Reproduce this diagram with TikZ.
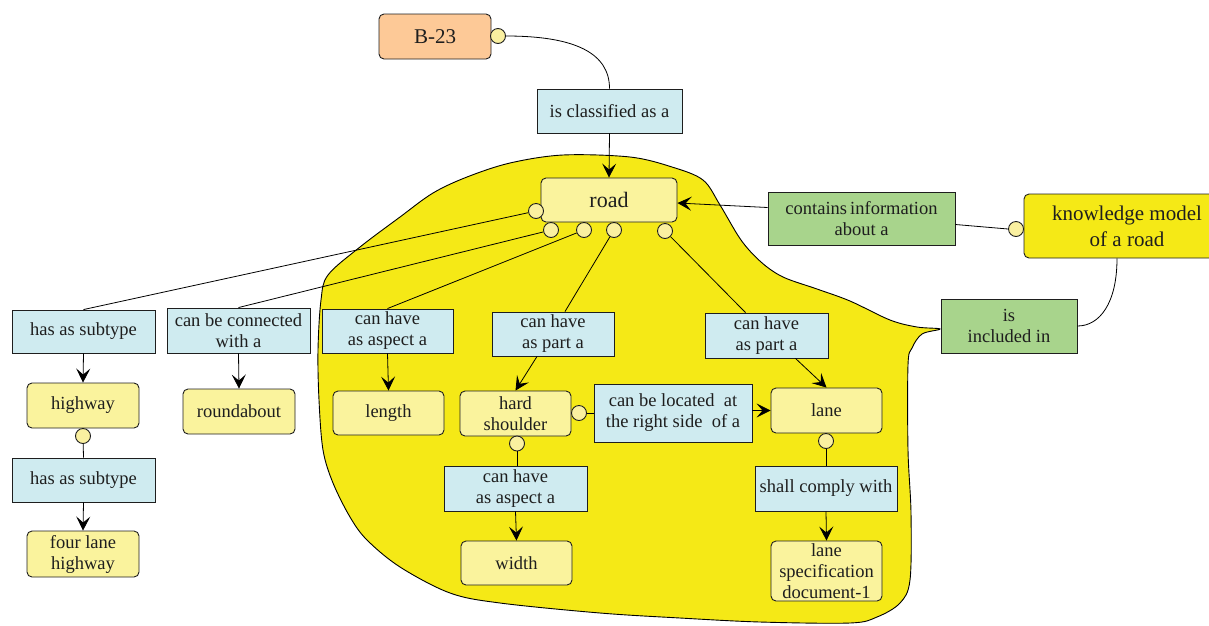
\documentclass[tikz,border=0pt]{standalone}
\usepackage{fontspec}
\setmainfont{Liberation Serif}
\usetikzlibrary{arrows.meta}
\definecolor{lblue}{RGB}{207,235,240}
\definecolor{cyellow}{RGB}{250,243,157}
\definecolor{pyellow}{RGB}{250,240,160}
\definecolor{lgreen}{RGB}{168,212,140}
\definecolor{corange}{RGB}{253,201,151}
\definecolor{blobyellow}{RGB}{245,233,22}
\definecolor{ink}{RGB}{30,30,30}
\begin{document}
\begin{tikzpicture}[x=1pt,y=-1pt,
  base/.style={draw=ink, line width=0.9pt, align=center, inner sep=2pt,
    font=\fontsize{18.5}{21}\selectfont, text=ink},
  concept/.style={base, rounded corners=5pt, fill=cyellow},
  rel/.style={base, fill=lblue},
  grel/.style={base, fill=lgreen},
  port/.style={circle, draw=ink, line width=0.9pt, fill=pyellow, minimum size=15pt, inner sep=0pt},
  link/.style={line width=0.8pt, draw=black},
  arr/.style={link, -{Stealth[length=14pt,width=14pt,inset=6pt]}}
]
\useasboundingbox (0,0) rectangle (1209,625);
% blob
\draw[line width=0.9pt, draw=black, fill=blobyellow] plot[smooth cycle, tension=0.55] coordinates {
(563,155) (630,157) (672,167) (703,180) (720,205) (741,240) (761,262) (783,277)
(817,289) (850,301) (890,320) (917,327) (940,329) (922,334) (912,348) (908,365)
(908,450) (911,513) (910,580) (900,603) (877,617) (850,623) (760,622) (680,618)
(600,613) (500,603) (450,593) (400,567) (367,540) (350,517) (333,483) (323,450)
(319,400) (318,350) (321,300) (328,275) (360,247) (400,217) (433,193) (467,177)
(510,163)};

% nodes
\node[concept, fill=corange, minimum width=112pt, minimum height=45pt, font=\fontsize{21}{24}\selectfont] (b23) at (435,36.5) {B-23};
\node[rel, minimum width=145pt, minimum height=44pt] (cls) at (609.5,111) {is classified as a};
\node[concept, minimum width=136pt, minimum height=44pt, font=\fontsize{22}{25}\selectfont] (road) at (609,200) {road};
\node[grel, minimum width=187pt, minimum height=53pt] (contains) at (861.5,218.5) {contains\,information\\about a};
\node[concept, fill=blobyellow, minimum width=206pt, minimum height=64pt, font=\fontsize{21}{26}\selectfont] (km) at (1127,226) {knowledge model\\of a road};
\node[grel, minimum width=136pt, minimum height=54pt] (incl) at (1009,326) {is\\included in};

\node[rel, minimum width=143pt, minimum height=43pt] (sub1) at (83.5,331.5) {has as subtype};
\node[rel, minimum width=143pt, minimum height=45pt] (conn) at (238.5,330.5) {can be connected\\with a};
\node[rel, minimum width=131pt, minimum height=44pt] (asp1) at (387.5,331) {can have\\as aspect a};
\node[rel, minimum width=122pt, minimum height=44pt] (part1) at (553,334) {can have\\as part a};
\node[rel, minimum width=123pt, minimum height=45pt] (part2) at (766.5,335.5) {can have\\as part a};

\node[concept, minimum width=112pt, minimum height=45pt] (highway) at (83,405.5) {highway};
\node[rel, minimum width=143pt, minimum height=44pt] (sub2) at (83.5,480) {has as subtype};
\node[concept, minimum width=112pt, minimum height=46pt] (four) at (83,554) {four lane\\highway};
\node[concept, minimum width=112pt, minimum height=45pt] (round) at (239,411.5) {roundabout};
\node[concept, minimum width=111pt, minimum height=44pt] (length) at (388.5,413) {length};
\node[concept, minimum width=111pt, minimum height=45pt] (hard) at (515.5,413.5) {hard\\shoulder};
\node[rel, minimum width=158pt, minimum height=58pt] (loc) at (673,413) {can be located \ at\\the right side \ of a};
\node[concept, minimum width=111pt, minimum height=45pt] (lane) at (826.5,410.5) {lane};
\node[rel, minimum width=143pt, minimum height=45pt] (asp2) at (515.5,488.5) {can have\\as aspect a};
\node[concept, minimum width=111pt, minimum height=44pt] (width) at (516.5,563) {width};
\node[rel, minimum width=142pt, minimum height=45pt] (comply) at (826,488.5) {shall comply with};
\node[concept, minimum width=111pt, minimum height=60pt] (spec) at (826.5,571) {lane\\specification\\document-1};

% ports
\node[port] (pb) at (498,36) {};
\node[port] (rl) at (536,211) {};
\node[port] (r1) at (551,230) {};
\node[port] (r2) at (584,230) {};
\node[port] (r3) at (614,230) {};
\node[port] (r4) at (665,231) {};
\node[port] (pk) at (1016,229) {};
\node[port] (ph) at (83,436) {};
\node[port] (hr) at (579,413) {};
\node[port] (hb) at (517,443.5) {};
\node[port] (lb) at (826,441) {};

% connectors
\draw[link] (pb.east) .. controls +(70,0) and +(0,-35) .. (cls.north);
\draw[arr] (cls.south) -- (road.north);
\draw[link] (pk.west) -- ([yshift=-6pt]contains.east);
\draw[arr] ([yshift=11pt]contains.west) -- ([yshift=-3pt]road.east);
\draw[link] ([xshift=-10pt]km.south) .. controls +(0,45) and +(22,0) .. (incl.east);

\draw[link] (rl) -- (sub1.north);
\draw[link] (r1) -- (conn.north);
\draw[link] (r2) -- (asp1.north);
\draw[link] (r3) -- ([xshift=12pt]part1.north);
\draw[link] (r4) -- ([xshift=-21pt]part2.north);

\draw[arr] (sub1.south) -- (highway.north);
\draw[link] (ph) -- (sub2.north);
\draw[arr] (sub2.south) -- (four.north);
\draw[arr] (conn.south) -- (round.north);
\draw[arr] (asp1.south) -- (length.north);
\draw[arr] ([xshift=-16pt]part1.south) -- (hard.north);
\draw[arr] ([xshift=29pt]part2.south) -- (lane.north);
\draw[link] (hr) -- (loc.west);
\draw[arr] (loc.east |- lane.west) -- (lane.west);
\draw[link] (hb) -- (hb |- asp2.north);
\draw[arr] (asp2.south) -- (width.north);
\draw[link] (lb) -- (comply.north);
\draw[arr] (comply.south) -- (spec.north);
\end{tikzpicture}
\end{document}
